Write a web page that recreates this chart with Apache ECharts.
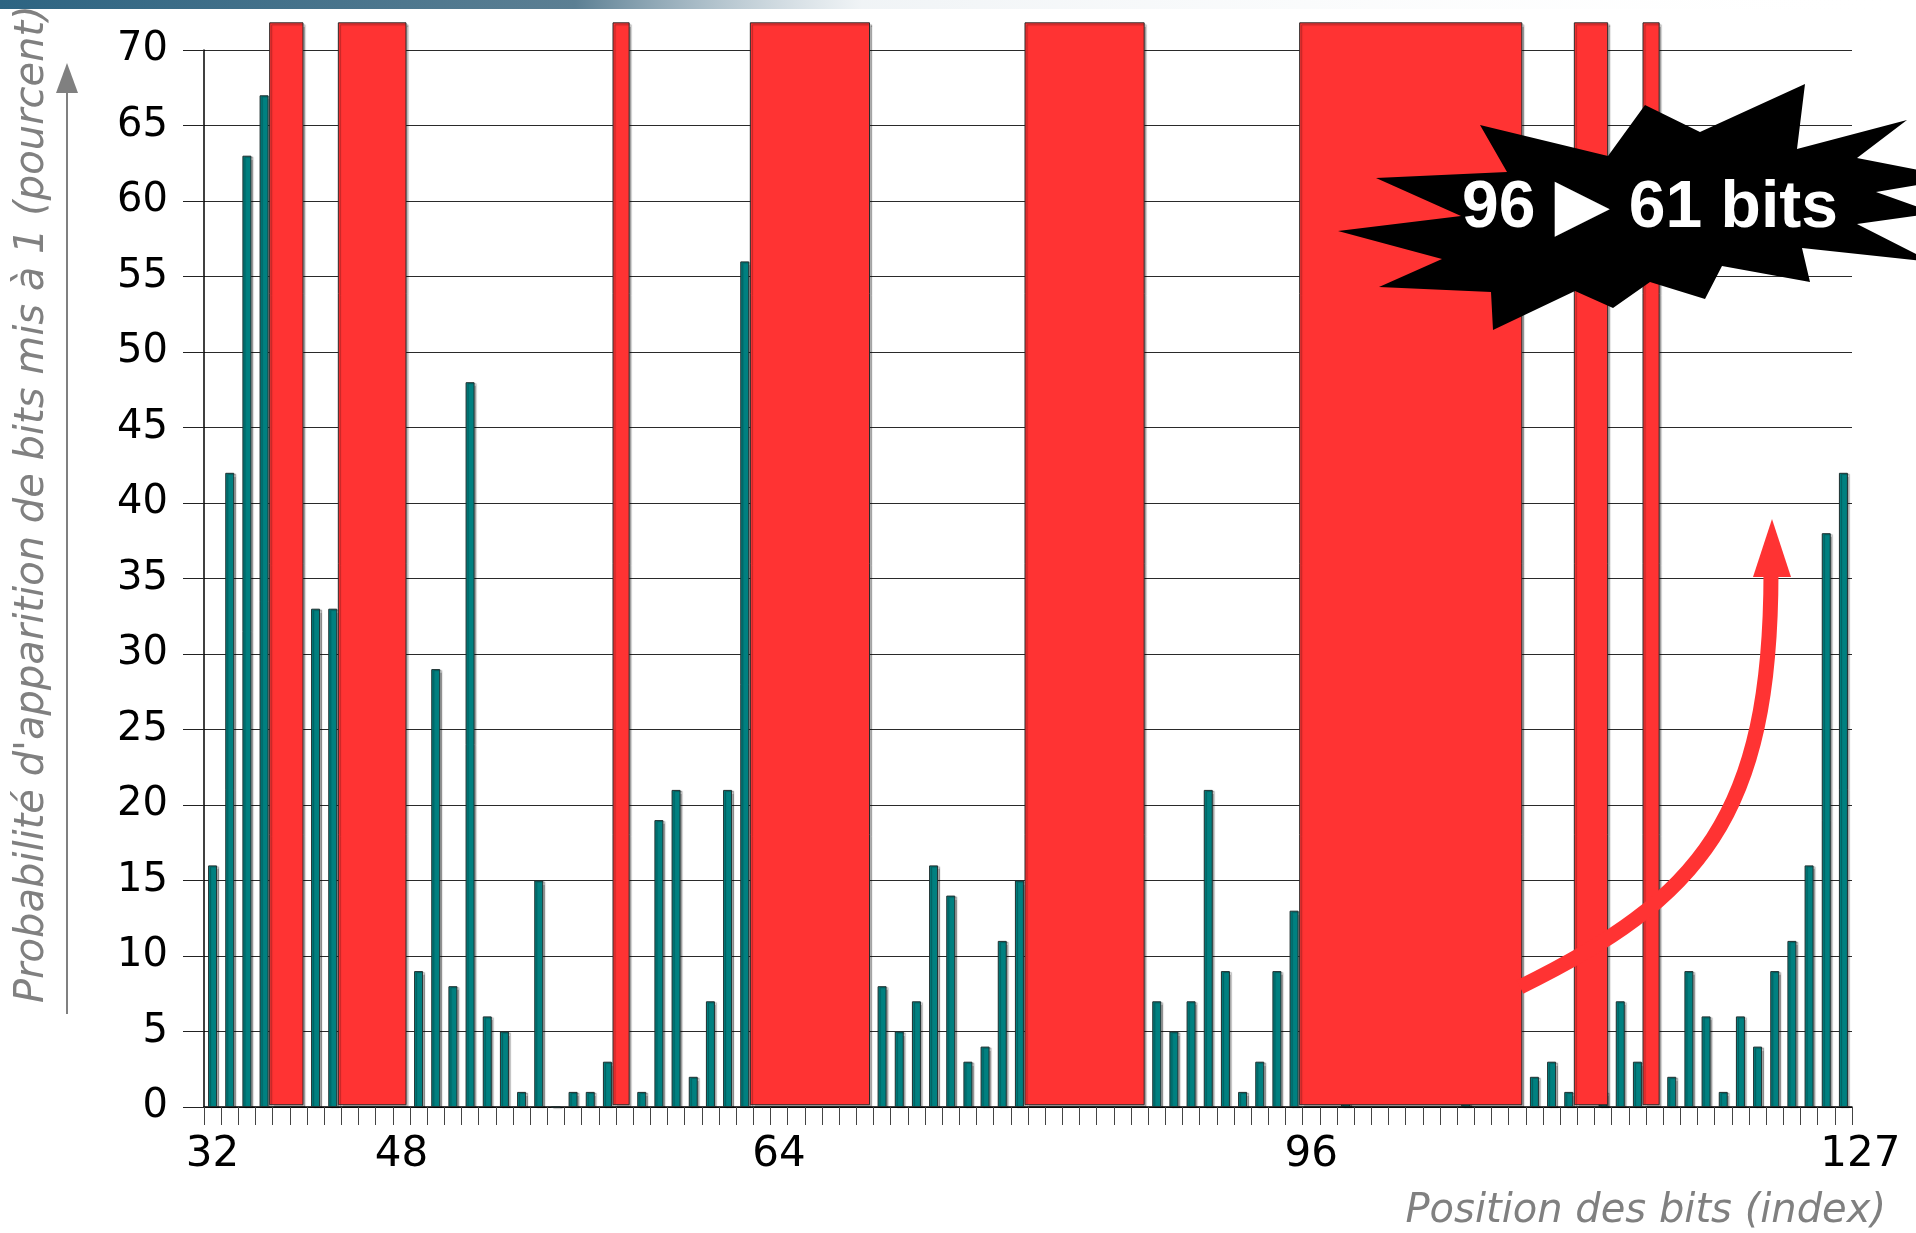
<!DOCTYPE html>
<html>
<head>
<meta charset="utf-8">
<title>Probabilité d'apparition de bits mis à 1</title>
<script src="https://cdn.jsdelivr.net/npm/echarts@6/dist/echarts.min.js"></script>
<style>
  html, body { margin: 0; padding: 0; background: #fff; }
  #chart { width: 1916px; height: 1233px; }
</style>
</head>
<body>
<div id="chart"></div>
<script>
// bit positions 32..127 (x categories)
const bitPositions = [];
for (let b = 32; b <= 127; b++) bitPositions.push(String(b));

// % of addresses with the bit set to 1 (null = hidden under a red mask)
const probability = [
  16, 42, 63, 67, null, null, 33, 33,            // 32-39
  null, null, null, null, 9, 29, 8, 48,          // 40-47
  6, 5, 1, 15, 0, 1, 1, 3,                       // 48-55
  null, 1, 19, 21, 2, 7, 21, 56,                 // 56-63
  null, null, null, null, null, null, null, 8,   // 64-71
  5, 7, 16, 14, 3, 4, 11, 15,                    // 72-79
  null, null, null, null, null, null, null, 7,   // 80-87
  5, 7, 21, 9, 1, 3, 9, 13,                      // 88-95
  null, null, 1, null, null, null, null, null,   // 96-103
  null, 1, null, null, null, 2, 3, 1,            // 104-111
  null, 1, 7, 3, null, 2, 9, 6,                  // 112-119
  1, 6, 4, 9, 11, 16, 38, 42                     // 120-127
];

// masked bit ranges (red blocks)
const maskedFrom = [36, 40, 56, 64, 80, 96, 112, 116];
const maskedTo   = [37, 43, 56, 70, 86, 108, 113, 116];
const maskTop = 71.8;
const maskBottom = 0.15;

// x tick labels and the category they sit under
const tickLabelAt   = ['32', '43', '65', '96', '127'];
const tickLabelText = ['32', '48', '64', '96', '127'];

const yTicks = [0, 5, 10, 15, 20, 25, 30, 35, 40, 45, 50, 55, 60, 65, 70];

const yName = "Probabilité d'apparition de bits mis à 1 (pourcent)";
const xName = 'Position des bits (index)';
const burstFrom = '96';
const burstTo = '61 bits';

const chart = echarts.init(document.getElementById('chart'));

const maskData = maskedFrom.map((b, i) => [b - 32, maskedTo[i] - 32, maskTop]);

// starburst outline
const burst = [
  [1480, 125], [1608, 156], [1645, 105], [1700, 132], [1805, 84], [1797, 149],
  [1907, 120], [1857, 158], [1960, 178], [1876, 192], [1935, 213], [1857, 224],
  [1932, 262], [1802, 248], [1810, 282], [1722, 266], [1705, 299], [1650, 282],
  [1613, 308], [1575, 291], [1493, 330], [1491, 292], [1379, 287], [1442, 259],
  [1338, 231], [1461, 216], [1376, 178], [1507, 172]
];

chart.setOption({
  animation: false,
  backgroundColor: '#fff',
  grid: { left: 204, right: 64, top: 50, bottom: 126 },
  xAxis: {
    type: 'category',
    data: bitPositions,
    boundaryGap: true,
    axisLine: { lineStyle: { color: '#000', width: 1.5 } },
    axisTick: { show: true, interval: 0, length: 18, lineStyle: { color: '#444', width: 1 } },
    axisLabel: {
      interval: 0,
      margin: 27,
      color: '#000',
      fontFamily: 'DejaVu Sans',
      fontSize: 42,
      formatter: function (v) {
        const k = tickLabelAt.indexOf(v);
        if (k < 0) return '';
        if (tickLabelText[k] === '127') return '{r|' + tickLabelText[k] + '}';
        return tickLabelText[k];
      },
      rich: { r: { fontFamily: 'DejaVu Sans', fontSize: 42, color: '#000', padding: [0, 0, 0, 34] } }
    },
    splitLine: { show: false }
  },
  yAxis: {
    type: 'value',
    min: yTicks[0],
    max: yTicks[yTicks.length - 1],
    interval: 5,
    axisLine: { show: true, lineStyle: { color: '#000', width: 1.5 } },
    axisTick: { show: true, length: 21, lineStyle: { color: '#222' } },
    axisLabel: { margin: 36, color: '#000', fontFamily: 'DejaVu Sans', fontSize: 40 },
    splitLine: { show: true, lineStyle: { color: '#2a2a2a', width: 1 } }
  },
  series: [
    {
      type: 'bar',
      data: probability,
      barWidth: 9,
      z: 2,
      itemStyle: {
        color: '#008080',
        borderColor: '#1f2f2f',
        borderWidth: 1,
        shadowColor: 'rgba(0,0,0,0.3)',
        shadowBlur: 1,
        shadowOffsetX: 2,
        shadowOffsetY: 1
      }
    },
    {
      type: 'custom',
      z: 3,
      clip: false,
      data: maskData,
      encode: { x: [0, 1], y: 2 },
      renderItem: function (params, api) {
        const a = api.coord([api.value(0), maskTop]);
        const b = api.coord([api.value(1), maskBottom]);
        const band = api.size([1, 0])[0];
        const x0 = a[0] - band / 2 - 3;
        const x1 = b[0] + band / 2 - 4;
        return {
          type: 'rect',
          shape: { x: x0, y: a[1], width: x1 - x0, height: b[1] - a[1] },
          style: {
            fill: '#ff3333',
            stroke: '#2a2a2a',
            lineWidth: 1,
            shadowColor: 'rgba(0,0,0,0.3)',
            shadowBlur: 1,
            shadowOffsetX: 2,
            shadowOffsetY: 2
          }
        };
      }
    }
  ],
  graphic: [
    {
      type: 'rect', z: 1,
      shape: { x: 0, y: 0, width: 1916, height: 9 },
      style: {
        fill: new echarts.graphic.LinearGradient(0, 0, 1, 0, [
          { offset: 0, color: '#2d6482' },
          { offset: 0.3, color: '#5c7f93' },
          { offset: 0.45, color: 'rgba(230,236,240,0.6)' },
          { offset: 1, color: 'rgba(255,255,255,0)' }
        ])
      }
    },
    // y axis name and arrow
    {
      type: 'text', z: 50,
      x: 33, y: 1003, rotation: Math.PI / 2,
      style: {
        text: yName, fill: '#808080',
        font: 'italic 40px "DejaVu Sans"',
        align: 'left', verticalAlign: 'middle'
      }
    },
    {
      type: 'line', z: 50,
      shape: { x1: 67, y1: 1014, x2: 67, y2: 90 },
      style: { stroke: '#808080', lineWidth: 2 }
    },
    {
      type: 'polygon', z: 50,
      shape: { points: [[67, 63], [56, 93], [78, 93]] },
      style: { fill: '#808080' }
    },
    // x axis name
    {
      type: 'text', z: 50,
      x: 1886, y: 1212,
      style: {
        text: xName, fill: '#808080',
        font: 'italic 40px "DejaVu Sans"',
        align: 'right', verticalAlign: 'middle'
      }
    },
    // curved red arrow
    {
      type: 'bezierCurve', z: 60,
      shape: { x1: 1520, y1: 987, cpx1: 1700, cpy1: 899, cpx2: 1771, cpy2: 816, x2: 1771, y2: 572 },
      style: { stroke: '#ff3333', lineWidth: 15, fill: null }
    },
    {
      type: 'polygon', z: 60,
      shape: { points: [[1772, 519], [1753, 577], [1791, 577]] },
      style: { fill: '#ff3333' }
    },
    // starburst
    {
      type: 'polygon', z: 70,
      shape: { points: burst },
      style: { fill: '#000' }
    },
    {
      type: 'text', z: 71,
      x: 1650, y: 209,
      style: {
        text: '{n|' + burstFrom + '}{t|▶}{n|' + burstTo + '}',
        align: 'center', verticalAlign: 'middle',
        rich: {
          n: { fill: '#fff', font: 'bold 66px "Liberation Sans", Arial, sans-serif' },
          t: { fill: '#fff', font: '72px "DejaVu Sans"', padding: [0, 19, 0, 19] }
        }
      }
    }
  ]
});
</script>
</body>
</html>
